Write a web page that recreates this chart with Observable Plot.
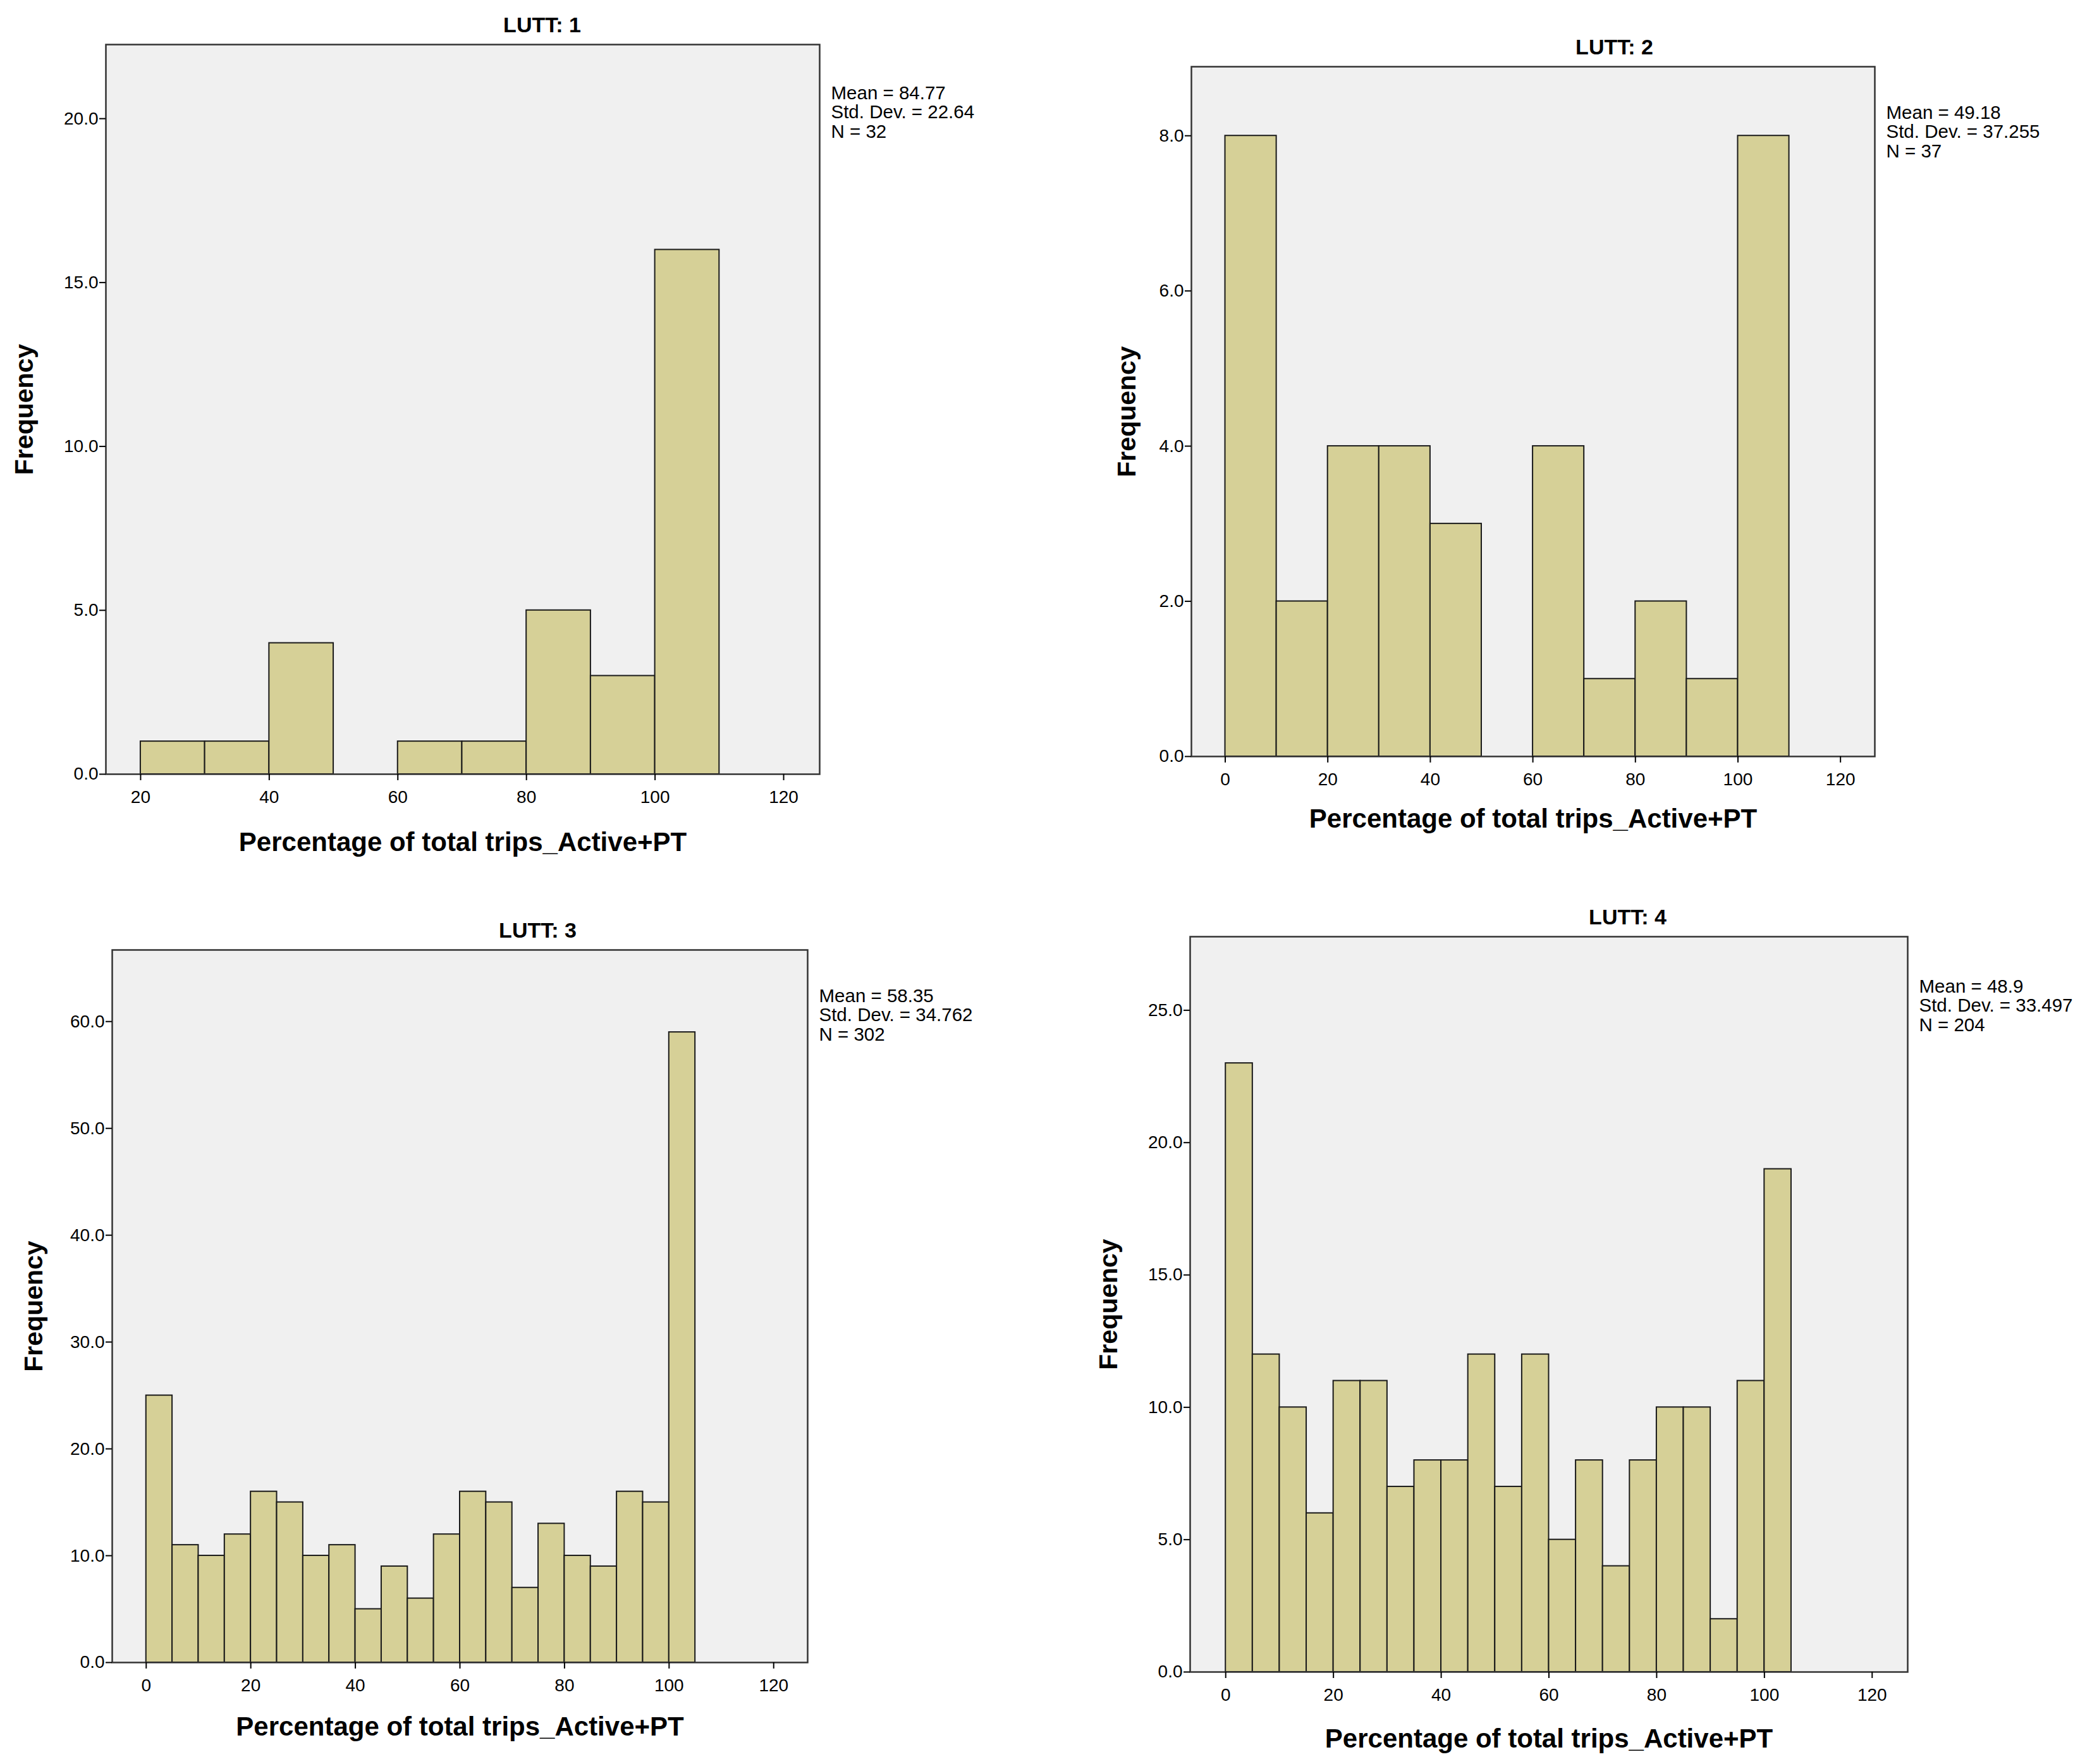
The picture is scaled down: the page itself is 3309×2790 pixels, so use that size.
<!DOCTYPE html>
<html>
<head>
<meta charset="utf-8">
<script src="https://cdn.jsdelivr.net/npm/d3@7"></script>
<script src="https://cdn.jsdelivr.net/npm/@observablehq/plot@0.6"></script>
<style>
  html, body { margin: 0; padding: 0; background: #fff; }
  #root { position: relative; width: 3309px; height: 2790px; overflow: hidden; background: #fff; }
  .panel { position: absolute; }
</style>
</head>
<body>
<div id="root"></div>
<script>
// ---------- data ----------
const titles = ["LUTT: 1", "LUTT: 2", "LUTT: 3", "LUTT: 4"];
const xLabel = "Percentage of total trips_Active+PT";
const yLabel = "Frequency";

const lutt1Edges = [20, 30, 40, 50, 60, 70, 80, 90, 100, 110];
const lutt1Counts = [1, 1, 4, 0, 1, 1, 5, 3, 16];

const lutt2Edges = [0, 10, 20, 30, 40, 50, 60, 70, 80, 90, 100, 110];
const lutt2Counts = [8, 2, 4, 4, 3, 0, 4, 1, 2, 1, 8];

const lutt3Edges = [0, 5, 10, 15, 20, 25, 30, 35, 40, 45, 50, 55, 60, 65, 70, 75, 80, 85, 90, 95, 100, 105];
const lutt3Counts = [25, 11, 10, 12, 16, 15, 10, 11, 5, 9, 6, 12, 16, 15, 7, 13, 10, 9, 16, 15, 59];

const lutt4Edges = [0, 5, 10, 15, 20, 25, 30, 35, 40, 45, 50, 55, 60, 65, 70, 75, 80, 85, 90, 95, 100, 105];
const lutt4Counts = [23, 12, 10, 6, 11, 11, 7, 8, 8, 12, 7, 12, 5, 8, 4, 8, 10, 10, 2, 11, 19];

const stats1 = ["Mean = 84.77", "Std. Dev. = 22.64", "N = 32"];
const stats2 = ["Mean = 49.18", "Std. Dev. = 37.255", "N = 37"];
const stats3 = ["Mean = 58.35", "Std. Dev. = 34.762", "N = 302"];
const stats4 = ["Mean = 48.9", "Std. Dev. = 33.497", "N = 204"];

const xTicks1 = [20, 40, 60, 80, 100, 120];
const xTicks = [0, 20, 40, 60, 80, 100, 120];
const yTicks1 = [0, 5, 10, 15, 20];
const yTicks2 = [0, 2, 4, 6, 8];
const yTicks3 = [0, 10, 20, 30, 40, 50, 60];
const yTicks4 = [0, 5, 10, 15, 20, 25];

const xDomain1 = [14.6, 125.6];
const xDomain2 = [-6.6, 126.7];
const xDomain3 = [-6.5, 126.5];
const xDomain4 = [-6.6, 126.6];
const yMax1 = 22.26, yMax2 = 8.89, yMax3 = 66.7, yMax4 = 27.78;

// ---------- layout ----------
const FONT = "'Liberation Sans', Arial, Helvetica, sans-serif";
const mL = 160, mT = 66, mR = 290, mB = 140;

const panels = [
  {title: titles[0], edges: lutt1Edges, counts: lutt1Counts, stats: stats1, xTicks: xTicks1, yTicks: yTicks1, xDomain: xDomain1, yMax: yMax1,
   L: 167, T: 70, W: 1129, H: 1154, titleDx: 690, yLabDx: -129, xLabDy: 108, statsDy: 64},
  {title: titles[1], edges: lutt2Edges, counts: lutt2Counts, stats: stats2, xTicks: xTicks, yTicks: yTicks2, xDomain: xDomain2, yMax: yMax2,
   L: 1884, T: 105, W: 1081, H: 1091, titleDx: 669, yLabDx: -102, xLabDy: 99, statsDy: 60},
  {title: titles[2], edges: lutt3Edges, counts: lutt3Counts, stats: stats3, xTicks: xTicks, yTicks: yTicks3, xDomain: xDomain3, yMax: yMax3,
   L: 177, T: 1502, W: 1100, H: 1127, titleDx: 673, yLabDx: -124, xLabDy: 102, statsDy: 60},
  {title: titles[3], edges: lutt4Edges, counts: lutt4Counts, stats: stats4, xTicks: xTicks, yTicks: yTicks4, xDomain: xDomain4, yMax: yMax4,
   L: 1882, T: 1481, W: 1135, H: 1163, titleDx: 692, yLabDx: -129, xLabDy: 106, statsDy: 66}
];

const root = document.getElementById("root");

for (const p of panels) {
  const bins = p.counts.map((c, i) => ({x1: p.edges[i], x2: p.edges[i + 1], count: c})).filter(d => d.count > 0);
  const svg = Plot.plot({
    width: p.W + mL + mR,
    height: p.H + mT + mB,
    marginLeft: mL, marginTop: mT, marginRight: mR, marginBottom: mB,
    x: {domain: p.xDomain},
    y: {domain: [0, p.yMax]},
    style: {fontFamily: FONT, fontSize: "28px", color: "#000", background: "transparent", overflow: "visible"},
    marks: [
      Plot.frame({fill: "#f0f0f0", stroke: null}),
      Plot.rect(bins, {x1: "x1", x2: "x2", y1: 0, y2: "count", fill: "#d6d097", stroke: "#1a1a1a", strokeWidth: 2, inset: 0}),
      Plot.frame({stroke: "#333", strokeWidth: 2.5}),
      Plot.axisY({ticks: p.yTicks, tickFormat: d3.format(".1f"), tickSize: 10, tickPadding: 2, label: null, strokeWidth: 2, fontSize: 28}),
      Plot.axisX({ticks: p.xTicks, tickFormat: d => String(d), tickSize: 10, tickPadding: 16, label: null, strokeWidth: 2, fontSize: 28}),
      Plot.text([p.title], {text: d => d, frameAnchor: "top-left", dx: p.titleDx, dy: -30, textAnchor: "middle", lineAnchor: "middle", fontWeight: "bold", fontSize: 34, fill: "#000"}),
      Plot.text([xLabel], {text: d => d, frameAnchor: "bottom", dy: p.xLabDy, textAnchor: "middle", lineAnchor: "middle", fontWeight: "bold", fontSize: 42, fill: "#000"}),
      Plot.text([yLabel], {text: d => d, frameAnchor: "left", dx: p.yLabDx, rotate: -90, textAnchor: "middle", lineAnchor: "middle", fontWeight: "bold", fontSize: 41, fill: "#000"}),
      Plot.text([p.stats.join("\n")], {text: d => d, frameAnchor: "top-right", dx: 18, dy: p.statsDy, textAnchor: "start", lineAnchor: "top", lineHeight: 1.05, fontSize: 29.5, fill: "#000"})
    ]
  });
  const div = document.createElement("div");
  div.className = "panel";
  div.style.left = (p.L - mL) + "px";
  div.style.top = (p.T - mT) + "px";
  div.appendChild(svg);
  root.appendChild(div);
}
</script>
</body>
</html>
